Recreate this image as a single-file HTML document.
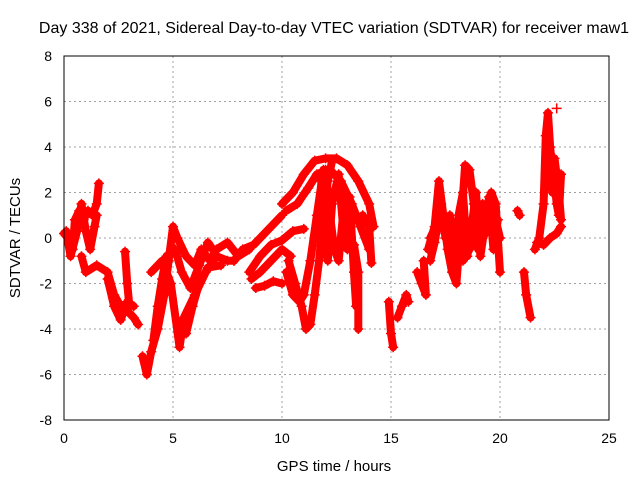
<!DOCTYPE html>
<html><head><meta charset="utf-8"><style>
body{margin:0;background:#fff;font-family:"Liberation Sans",sans-serif}
svg{display:block}
text{font-family:"Liberation Sans",sans-serif;fill:#000}
</style></head><body>
<svg id="chart" width="640" height="480">
<text x="334" y="33" font-size="16" text-anchor="middle">Day 338 of 2021, Sidereal Day-to-day VTEC variation (SDTVAR) for receiver maw1</text>
<text x="334" y="471" font-size="15" text-anchor="middle">GPS time / hours</text>
<text x="20" y="238" font-size="15" text-anchor="middle" transform="rotate(-90 20 238)">SDTVAR / TECUs</text>
<g id="grid"></g><g id="marks"></g>
<rect x="64" y="56" width="545" height="364" fill="none" stroke="#000"/>
<g id="ticks"></g>
</svg>
<script>
const xTicks=[0,5,10,15,20,25];
const yTicks=[-8,-6,-4,-2,0,2,4,6,8];
const track1=[[0,0.2],[0.2,0],[0.4,-0.5],[0.5,0.8],[0.7,1.2],[0.9,0.8],[1.1,1.2],[1.3,1.0],[1.5,1.5],[1.6,2.4]];
const track1b=[[0.1,0.3],[0.3,-0.8],[0.6,0.3],[0.8,1.5],[1.0,0.3],[1.2,-0.5],[1.4,0.5],[1.5,1.0]];
const track2=[[0.8,-0.8],[1.0,-1.5],[1.5,-1.2],[2.0,-1.5],[2.3,-2.5],[2.6,-3.0],[2.9,-3.2],[3.2,-3.5],[3.4,-3.8]];
const track2b=[[2.0,-1.8],[2.3,-3.0],[2.6,-3.6],[2.9,-2.8],[3.2,-3.0]];
const track3=[[2.8,-0.6],[2.9,-2],[3.0,-3]];
const track4=[[3.6,-5.2],[3.8,-6.0],[4.0,-5],[4.3,-4],[4.6,-2.5],[4.8,-1],[5.0,0.5],[5.2,0],[5.6,-0.8],[6.0,-1.2],[6.3,-0.5],[6.7,-1.0],[7.0,-0.5],[7.5,-0.2],[8.0,-0.8],[8.5,-0.5]];
const track4b=[[4.1,-4.5],[4.3,-3],[4.5,-1.8],[4.7,-0.8],[5.1,-0.5],[5.4,-1.5],[5.8,-2.2],[6.2,-1.2],[6.6,-0.2],[6.9,-0.6]];
const track5=[[4.0,-1.5],[4.5,-1.0],[4.9,-2.0],[5.3,-4.8],[5.5,-3.5],[6.0,-2.5],[6.5,-1.5],[7.0,-0.8],[7.5,-1.0],[7.8,-1.0]];
const track5b=[[5.6,-4.2],[5.9,-3.0],[6.2,-2.0],[6.6,-1.3],[7.2,-1.2]];
const track6=[[7.8,-1.0],[8.2,-0.5],[8.7,-0.3],[9.0,0],[9.5,0.5],[10.0,1.0]];
const track7=[[8.5,-1.5],[9.0,-0.8],[9.5,-0.3],[10.0,-0.1],[10.5,0.3],[11.0,0.4]];
const track8=[[8.6,-1.8],[9.0,-1.5],[9.5,-1.0],[10.0,-0.5],[10.4,-0.8]];
const track9=[[8.8,-2.2],[9.2,-2.1],[9.6,-1.9],[10.0,-2.0]];
const track10=[[10.0,1.5],[10.5,2.0],[11.0,2.8],[11.5,3.4],[12.0,3.5],[12.5,3.5],[13.0,3.2],[13.5,2.5],[14.0,1.5],[14.2,0.5]];
const track10b=[[10.2,1.2],[10.7,1.5],[11.2,2.2],[11.6,2.8],[12.2,3.0],[12.7,2.5],[13.2,1.5],[13.6,0.5],[14.0,-0.5]];
const track11=[[10.3,-1.0],[10.6,-2.0],[10.9,-3.0],[11.1,-4.0],[11.3,-3.8],[11.5,-2.5],[11.7,-1],[11.9,1],[12.1,2.5],[12.3,3.4]];
const track12=[[10.2,-1.5],[10.5,-2.5],[10.8,-2.8],[11.0,-2.5],[11.3,-1.0],[11.6,1.0],[11.9,3.0]];
const track13=[[12.0,3.0],[12.2,1.0],[12.4,-0.5],[12.6,-1.0],[12.9,2],[13.0,-0.5],[13.3,-0.3],[13.5,-1.5],[13.5,-4.0]];
const track13b=[[11.8,2.5],[11.9,0],[12.1,-1],[12.3,1.5],[12.6,2.8],[12.8,0.5],[13.1,1.8],[13.3,-1.5],[13.4,-3.0]];
const track14=[[13.7,1.0],[14.0,0.5],[14.1,-1.1]];
const track15=[[14.9,-2.8],[15.0,-4.2],[15.1,-4.8]];
const track16=[[15.3,-3.5],[15.5,-3.0],[15.7,-2.5],[15.8,-2.8]];
const track17=[[16.2,-1.5],[16.4,-2],[16.6,-2.5],[16.5,-1.0]];
const track18=[[16.7,-0.5],[17.0,0.5],[17.2,2.5],[17.4,1],[17.6,-0.5],[17.8,-1.5],[18.0,-2.0],[18.2,0.5],[18.4,3.2],[18.6,3.0],[18.8,1.5],[19.0,-0.5],[19.2,1.5],[19.4,1],[19.6,2.0],[19.8,1.5],[20.0,-1.5]];
const track18b=[[16.8,-1.0],[17.0,-0.2],[17.3,1.5],[17.5,0],[17.7,1.0],[17.9,-1.0],[18.1,1.0],[18.3,2.0],[18.5,-0.8],[18.7,0.5],[18.9,2.0],[19.1,-0.8],[19.3,0.5],[19.5,1.8],[19.7,-0.5],[19.9,0.8]];
const track19=[[16.8,0],[17.2,0.8],[17.5,0.2],[17.8,-0.5],[18.0,0],[18.3,-1.0],[18.6,-0.5],[18.9,0.3],[19.2,0],[19.5,0.5],[19.8,0.8],[20.0,0]];
const track20=[[20.8,1.2],[20.9,1.0]];
const track21=[[21.1,-1.5],[21.2,-2.5],[21.4,-3.5]];
const track22=[[21.6,-0.5],[21.8,0],[22.0,1.5],[22.1,4.5],[22.2,5.5],[22.3,4.0],[22.4,3.0],[22.5,2.5],[22.6,1.5],[22.7,1],[22.8,2.8]];
const track22b=[[22.2,3.5],[22.4,2.0],[22.5,3.5],[22.7,2.0],[22.8,0.8]];
const track23=[[21.7,-0.2],[22.0,-0.3],[22.3,0],[22.6,0.2],[22.8,0.5]];
const track24=[[22.6,5.7]];
const tracks=[track1,track1b,track2,track2b,track3,track4,track4b,track5,track5b,track6,track7,track8,track9,track10,track10b,track11,track12,track13,track13b,track14,track15,track16,track17,track18,track18b,track19,track20,track21,track22,track22b,track23,track24];

const X=t=>64+t*21.8, Y=v=>238-v*22.75;
const NS='http://www.w3.org/2000/svg';
const grid=document.getElementById('grid'),ticks=document.getElementById('ticks'),marks=document.getElementById('marks');
function mk(tag,a,p){const e=document.createElementNS(NS,tag);for(const k in a)e.setAttribute(k,a[k]);p.appendChild(e);return e;}
xTicks.forEach(t=>{
 if(t>0&&t<25){const g=mk('line',{x1:X(t),x2:X(t),y1:56,y2:420,stroke:'#a0a0a0','stroke-dasharray':'2,3'},grid);
 
 }
 const l=mk('text',{x:X(t),y:443,'font-size':14,'text-anchor':'middle'},ticks);l.textContent=t;
 
 
});
yTicks.forEach(v=>{
 if(v>-8&&v<8){const g=mk('line',{x1:64,x2:609,y1:Y(v),y2:Y(v),stroke:'#a0a0a0','stroke-dasharray':'2,3'},grid);
 
 }
 const l=mk('text',{x:52,y:Y(v)+5,'font-size':14,'text-anchor':'end'},ticks);l.textContent=v;
 
 
});
tracks.forEach((tr,i)=>{
 const pl=mk('polyline',{points:tr.map(p=>X(p[0])+','+Y(p[1])).join(' '),fill:'none',stroke:'#ff0000','stroke-width':8,'stroke-linejoin':'round','stroke-linecap':'round'},marks);
 
 
 tr.forEach(p=>{
  const x=X(p[0]),y=Y(p[1]);
  const m=mk('path',{d:`M${x-5},${y}H${x+5}M${x},${y-5}V${y+5}`,stroke:'#ff0000','stroke-width':1.5},marks);
  
  
 });
});
</script>
</body></html>
